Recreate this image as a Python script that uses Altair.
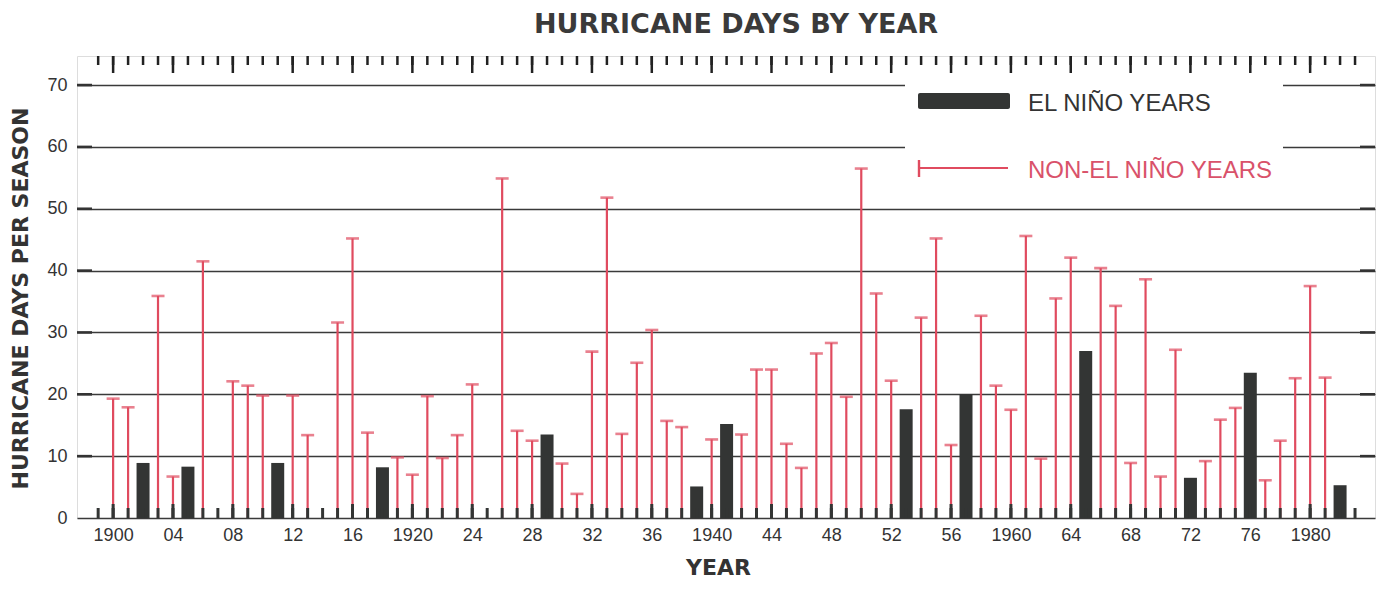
import altair as alt
import pandas as pd

# ---------------- data ----------------
nino_years = [1902, 1905, 1911, 1918, 1929, 1939, 1941, 1953, 1957, 1965, 1972, 1976, 1982]
nino_days = [8.9, 8.3, 8.9, 8.2, 13.5, 5.1, 15.2, 17.6, 20.0, 27.0, 6.5, 23.5, 5.3]

non_years = [1900, 1901, 1903, 1904, 1906, 1908, 1909, 1910, 1912, 1913,
             1915, 1916, 1917, 1919, 1920, 1921, 1922, 1923, 1924, 1926,
             1927, 1928, 1930, 1931, 1932, 1933, 1934, 1935, 1936, 1937,
             1938, 1940, 1942, 1943, 1944, 1945, 1946, 1947, 1948, 1949,
             1950, 1951, 1952, 1954, 1955, 1956, 1958, 1959, 1960, 1961,
             1962, 1963, 1964, 1966, 1967, 1968, 1969, 1970, 1971, 1973,
             1974, 1975, 1977, 1978, 1979, 1980, 1981]
non_days = [19.3, 17.9, 35.9, 6.7, 41.5, 22.1, 21.4, 19.8, 19.8, 13.4,
            31.6, 45.2, 13.8, 9.8, 7.0, 19.7, 9.7, 13.4, 21.6, 54.9,
            14.1, 12.5, 8.8, 3.9, 26.9, 51.8, 13.6, 25.1, 30.4, 15.7,
            14.7, 12.7, 13.5, 24.0, 24.0, 12.0, 8.1, 26.6, 28.3, 19.6,
            56.5, 36.3, 22.2, 32.4, 45.2, 11.8, 32.7, 21.4, 17.5, 45.6,
            9.6, 35.5, 42.1, 40.4, 34.3, 8.9, 38.6, 6.7, 27.2, 9.2,
            15.9, 17.8, 6.1, 12.5, 22.6, 37.5, 22.7]

axis_years = list(range(1899, 1984))
tick_years = [1900, 1904, 1908, 1912, 1916, 1920, 1924, 1928, 1932, 1936, 1940,
              1944, 1948, 1952, 1956, 1960, 1964, 1968, 1972, 1976, 1980]
tick_labels = ["1900", "04", "08", "12", "16", "1920", "24", "28", "32", "36", "1940",
               "44", "48", "52", "56", "1960", "64", "68", "72", "76", "1980"]
y_ticks = [0, 10, 20, 30, 40, 50, 60, 70]
legend_labels = ["EL NIÑO YEARS", "NON-EL NIÑO YEARS"]
title_text = ["HURRICANE DAYS BY YEAR"]

# ---------------- styling ----------------
W, H = 1298, 462
DARK = "#333534"
INK = "#333333"
RED = "#e04b5f"
RED_TXT = "#d9526a"
LABEL_FONT = "Liberation Sans"
BOLD_FONT = "DejaVu Sans"

nino_df = pd.DataFrame({"year": nino_years, "days": nino_days})
non_df = pd.DataFrame({"year": non_years, "days": non_days})
years_df = pd.DataFrame({"year": axis_years})
major_df = pd.DataFrame({"year": tick_years})
grid_df = pd.DataFrame({"v": y_ticks[1:]})

xscale = alt.Scale(domain=[1897.92, 1984.0], nice=False, zero=False)
yscale = alt.Scale(domain=[0, 74.7], nice=False, zero=False)

label_expr = "".join(f"datum.value == {y} ? '{l}' : " for y, l in zip(tick_years, tick_labels)) + "''"

x_axis = alt.Axis(values=tick_years, labelExpr=label_expr, ticks=False, tickSize=0,
                  domain=False, grid=False, labelOverlap=False,
                  labelFont=LABEL_FONT, labelFontSize=18, labelColor=INK, labelPadding=8,
                  title="YEAR", titleFont=BOLD_FONT, titleFontSize=22, titleFontWeight="bold",
                  titleColor=INK, titleX=641, titleY=56, titleBaseline="alphabetic",
                  titleAlign="center")
y_axis = alt.Axis(values=y_ticks, ticks=False, tickSize=0, domain=False, grid=True,
                  gridColor="#3a3a3a", gridWidth=1.4,
                  labelFont=LABEL_FONT, labelFontSize=18, labelColor=INK, labelPadding=10,
                  title="HURRICANE DAYS PER SEASON", titleFont=BOLD_FONT, titleFontSize=22,
                  titleFontWeight="bold", titleColor=INK, titleAngle=270, titleX=-57,
                  titleY=242, titleAlign="center", titleBaseline="middle")

X = alt.X("year:Q", scale=xscale, axis=x_axis)
Y = alt.Y("days:Q", scale=yscale, axis=y_axis)

one = pd.DataFrame({"k": [0]})

# chart title as a text mark placed above the plot
title_mark = alt.Chart(pd.DataFrame({"t": title_text})).mark_text(
    align="center", baseline="alphabetic", font=BOLD_FONT, fontSize=27, fontWeight="bold",
    color="#3a3a3a").encode(x=alt.value(659), y=alt.value(-23), text="t:N")

# legend box (white) covering the grid lines
legend_box = alt.Chart(one).mark_rect(color="white").encode(
    x=alt.value(828), x2=alt.value(1206), y=alt.value(20), y2=alt.value(134))

bars = alt.Chart(nino_df).mark_bar(size=13, color=DARK, orient="vertical").encode(
    x=X, y=Y, y2=alt.datum(0))

stems = alt.Chart(non_df).mark_rule(color=RED, strokeWidth=2.2).encode(
    x=X, y=Y, y2=alt.datum(0))

caps = alt.Chart(non_df).mark_tick(orient="horizontal", size=13, thickness=2.6, color=RED).encode(
    x=X, y=Y)

stubs = alt.Chart(years_df).mark_tick(orient="vertical", size=10, thickness=3, yOffset=-5,
                                      color=DARK, opacity=1).encode(x=X, y=alt.datum(0))
stubs_major = alt.Chart(major_df).mark_tick(orient="vertical", size=14, thickness=3, yOffset=-7,
                                            color=DARK, opacity=1).encode(x=X, y=alt.datum(0))

top_ticks = alt.Chart(years_df).mark_tick(orient="vertical", size=9, thickness=2.5, yOffset=4.5,
                                          color="#222222", opacity=1).encode(x=X, y=alt.value(0))
top_major = alt.Chart(major_df).mark_tick(orient="vertical", size=17, thickness=2.5, yOffset=8.5,
                                          color="#222222", opacity=1).encode(x=X, y=alt.value(0))

left_ticks = alt.Chart(grid_df).mark_tick(orient="horizontal", size=15, thickness=2.6, xOffset=7.5,
                                          color=INK, opacity=1).encode(
    x=alt.value(0), y=alt.Y("v:Q", scale=yscale))
right_ticks = alt.Chart(grid_df).mark_tick(orient="horizontal", size=15, thickness=2.6, xOffset=-7.5,
                                           color=INK, opacity=1).encode(
    x=alt.value(W), y=alt.Y("v:Q", scale=yscale))

# legend items
leg_bar = alt.Chart(one).mark_rect(color=DARK, cornerRadius=2).encode(
    x=alt.value(841), x2=alt.value(933), y=alt.value(37), y2=alt.value(53))
leg_line = alt.Chart(one).mark_rule(color=RED, strokeWidth=2).encode(
    x=alt.value(842), x2=alt.value(931), y=alt.value(112))
leg_cap = alt.Chart(one).mark_rule(color=RED, strokeWidth=2.4).encode(
    x=alt.value(842), y=alt.value(104), y2=alt.value(121))
leg_text1 = alt.Chart(pd.DataFrame({"label": [legend_labels[0]]})).mark_text(
    align="left", baseline="alphabetic", font=LABEL_FONT, fontSize=24, color=INK).encode(
    x=alt.value(951), y=alt.value(55), text="label:N")
leg_text2 = alt.Chart(pd.DataFrame({"label": [legend_labels[1]]})).mark_text(
    align="left", baseline="alphabetic", font=LABEL_FONT, fontSize=24, color=RED_TXT).encode(
    x=alt.value(951), y=alt.value(122), text="label:N")

chart = alt.layer(
    legend_box, bars, stems, caps, stubs, stubs_major, top_ticks, top_major,
    left_ticks, right_ticks, leg_bar, leg_line, leg_cap, leg_text1, leg_text2, title_mark
).properties(
    width=W, height=H,
    autosize=alt.AutoSizeParams(type="none"),
    padding={"left": 69, "top": 48, "right": 1, "bottom": 63},
).configure_view(stroke=INK, strokeWidth=2).configure(background="white")

chart.save("out.html", embed_options={"renderer": "svg", "actions": False})
